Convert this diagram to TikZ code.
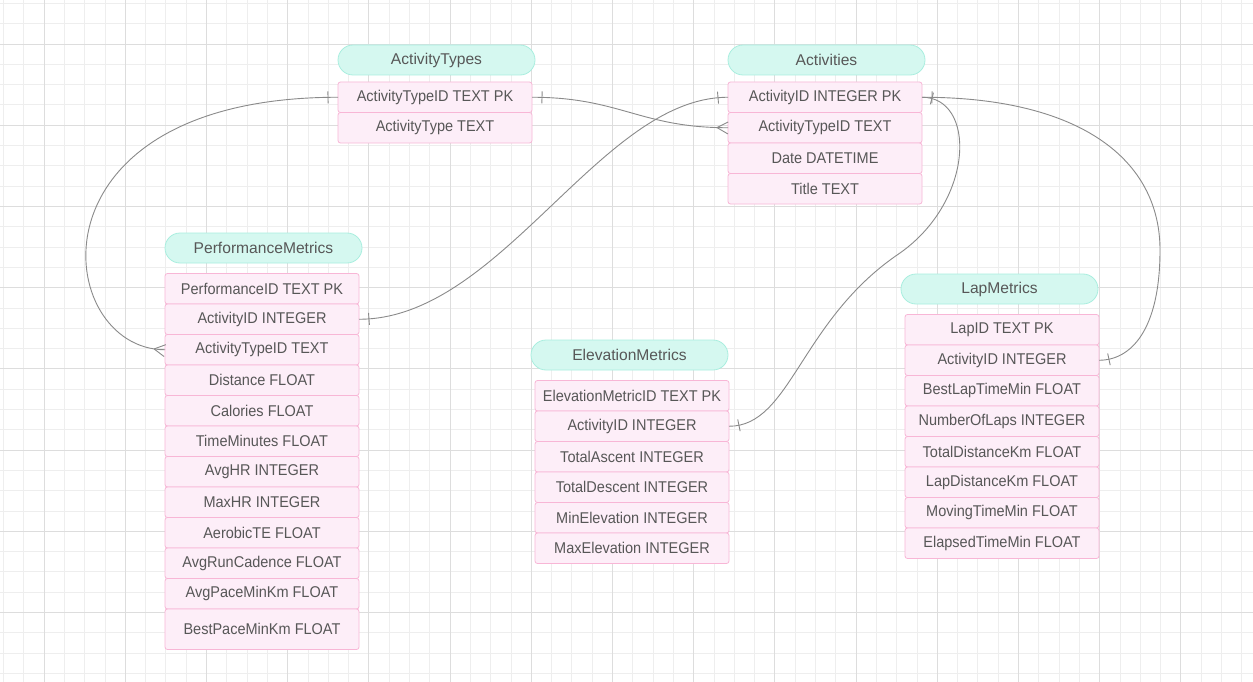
\documentclass[tikz,border=0pt]{standalone}
\usepackage{fontspec}
\setmainfont{Liberation Sans}
\newfontfamily\rowfont{Liberation Sans}[FakeStretch=0.93]
\usepackage{tikz}
\usetikzlibrary{positioning,decorations.markings}
\definecolor{hdrfill}{HTML}{D5F8F0}
\definecolor{hdrline}{HTML}{A9EEDF}
\definecolor{rowfill}{HTML}{FDEEF8}
\definecolor{rowline}{HTML}{F8B6D6}
\definecolor{txt}{HTML}{575757}
\definecolor{relline}{HTML}{8A8A8A}
\definecolor{gridminor}{HTML}{EEEEEE}
\definecolor{gridmajor}{HTML}{DDDDDD}
\tikzstyle{entity} = [rectangle, rounded corners=15pt, minimum width=197pt, minimum height=30pt, inner sep=0pt, outer sep=0pt, text centered, draw=hdrline, line width=0.8pt, fill=hdrfill, text=txt, font=\fontsize{15.6}{18}\selectfont]
\tikzstyle{attr} = [rectangle, rounded corners=2.5pt, minimum width=194pt, minimum height=30.5pt, inner sep=0pt, outer sep=0pt, text centered, draw=rowline, line width=0.8pt, fill=rowfill, text=txt, font=\rowfont\fontsize{15.6}{18}\selectfont]
\tikzstyle{rel} = [draw=relline, line width=0.9pt]
\tikzstyle{barstart} = [postaction={decorate, decoration={markings, mark=at position 10pt with {\draw[rel] (0pt,-6pt) -- (0pt,6pt);}}}]
\tikzstyle{barend} = [postaction={decorate, decoration={markings, mark=at position -10pt with {\draw[rel] (0pt,-6pt) -- (0pt,6pt);}}}]
\tikzstyle{crowend} = [postaction={decorate, decoration={markings, mark=at position -11pt with {\draw[rel] (0pt,0pt) -- (11pt,6pt) (0pt,0pt) -- (11pt,-6pt);}}}]
\begin{document}
\begin{tikzpicture}[x=1pt, y=-1pt]
      \useasboundingbox[fill=white] (0,0) rectangle (1253,682);
      % grid
      \foreach \i in {0,...,61} \draw[gridminor, line width=0.8pt] ({3.4+20.3*\i},0) -- ({3.4+20.3*\i},682);
      \foreach \i in {0,...,33} \draw[gridminor, line width=0.8pt] (0,{3.4+20.3*\i}) -- (1253,{3.4+20.3*\i});
      \foreach \i in {0,...,15} \draw[gridmajor, line width=0.8pt] ({44+81.2*\i},0) -- ({44+81.2*\i},682);
      \foreach \i in {0,...,8} \draw[gridmajor, line width=0.8pt] (0,{44+81.2*\i}) -- (1253,{44+81.2*\i});

      % ActivityTypes
      \node (atHead)[entity] at (436.5,60) {ActivityTypes};
      \node (at1)[attr, anchor=north west] at (338,82) {ActivityTypeID TEXT PK};
      \node (at2)[attr, below=0pt of at1] {ActivityType TEXT};

      % Activities
      \node (acHead)[entity] at (826.5,60) {Activities};
      \node (ac1)[attr, anchor=north west] at (728,82) {ActivityID INTEGER PK};
      \node (ac2)[attr, below=0pt of ac1] {ActivityTypeID TEXT};
      \node (ac3)[attr, below=0pt of ac2] {Date DATETIME};
      \node (ac4)[attr, below=0pt of ac3] {Title TEXT};

      % PerformanceMetrics
      \node (pmHead)[entity] at (263.5,248) {PerformanceMetrics};
      \node (pm1)[attr, anchor=north west] at (165,273.5) {PerformanceID TEXT PK};
      \node (pm2)[attr, below=0pt of pm1] {ActivityID INTEGER};
      \node (pm3)[attr, below=0pt of pm2] {ActivityTypeID TEXT};
      \node (pm4)[attr, below=0pt of pm3] {Distance FLOAT};
      \node (pm5)[attr, below=0pt of pm4] {Calories FLOAT};
      \node (pm6)[attr, below=0pt of pm5] {TimeMinutes FLOAT};
      \node (pm7)[attr, below=0pt of pm6] {AvgHR INTEGER};
      \node (pm8)[attr, below=0pt of pm7] {MaxHR INTEGER};
      \node (pm9)[attr, below=0pt of pm8] {AerobicTE FLOAT};
      \node (pm10)[attr, below=0pt of pm9] {AvgRunCadence FLOAT};
      \node (pm11)[attr, below=0pt of pm10] {AvgPaceMinKm FLOAT};
      \node (pm12)[attr, below=0pt of pm11, minimum height=40.5pt] {BestPaceMinKm FLOAT};

      % ElevationMetrics
      \node (elHead)[entity] at (629.5,355) {ElevationMetrics};
      \node (el1)[attr, anchor=north west] at (535,380.5) {ElevationMetricID TEXT PK};
      \node (el2)[attr, below=0pt of el1] {ActivityID INTEGER};
      \node (el3)[attr, below=0pt of el2] {TotalAscent INTEGER};
      \node (el4)[attr, below=0pt of el3] {TotalDescent INTEGER};
      \node (el5)[attr, below=0pt of el4] {MinElevation INTEGER};
      \node (el6)[attr, below=0pt of el5] {MaxElevation INTEGER};

      % LapMetrics
      \node (lmHead)[entity] at (999.5,289) {LapMetrics};
      \node (lm1)[attr, anchor=north west] at (905,314.5) {LapID TEXT PK};
      \node (lm2)[attr, below=0pt of lm1] {ActivityID INTEGER};
      \node (lm3)[attr, below=0pt of lm2] {BestLapTimeMin FLOAT};
      \node (lm4)[attr, below=0pt of lm3] {NumberOfLaps INTEGER};
      \node (lm5)[attr, below=0pt of lm4] {TotalDistanceKm FLOAT};
      \node (lm6)[attr, below=0pt of lm5] {LapDistanceKm FLOAT};
      \node (lm7)[attr, below=0pt of lm6] {MovingTimeMin FLOAT};
      \node (lm8)[attr, below=0pt of lm7] {ElapsedTimeMin FLOAT};

      \coordinate (bendEl) at (900,253);
      \coordinate (bendLm) at (1160,250);

      % relations
      \draw[rel, barstart, crowend] (at1.east) .. controls +(88,0) and +(-88,0) .. (ac2.west);
      \draw[rel, barstart, barend] (ac1.west) .. controls +(-128,0) and +(142,0) .. (pm2.east);
      \draw[rel, barstart, crowend] (at1.west) .. controls +(-318,0) and +(-112,0) .. (pm3.west);
      \draw[rel, barstart, barend] (ac1.east) .. controls +(54,0) and +(75,-53) .. (bendEl) .. controls +(-100,67) and +(62,0) .. (el2.east);
      \draw[rel, barstart, barend] (ac1.east) .. controls +(159,0) and +(0,-90) .. (bendLm) .. controls +(0,80) and +(32,0) .. (lm2.east);
    \end{tikzpicture}
\end{document}
